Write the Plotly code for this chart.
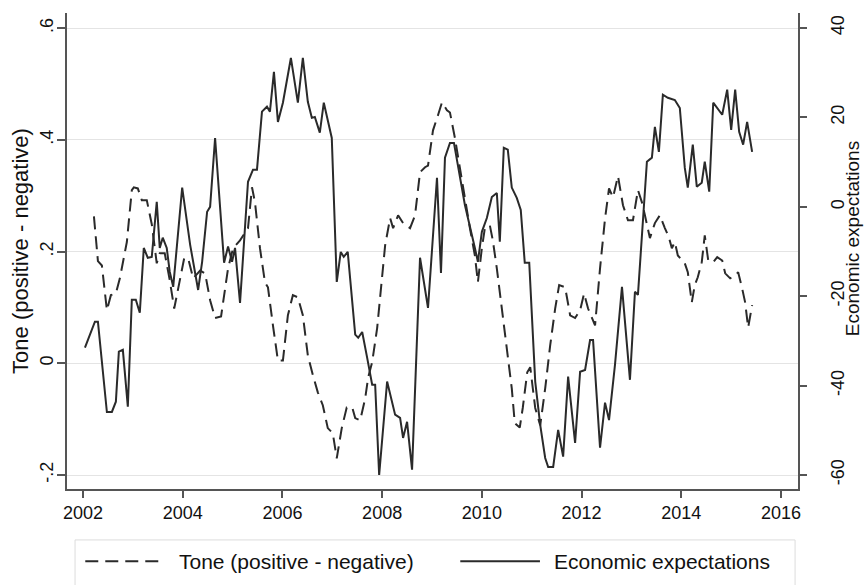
import plotly.graph_objects as go

# ---- Data ----
tone_year = [2002.22, 2002.30, 2002.38, 2002.48, 2002.56, 2002.66, 2002.74, 2002.88, 2002.98, 2003.02,
             2003.10, 2003.18, 2003.28, 2003.38, 2003.48, 2003.54, 2003.64, 2003.74, 2003.83, 2003.91,
             2004.03, 2004.11, 2004.21, 2004.35, 2004.45, 2004.55, 2004.65, 2004.77, 2004.91, 2005.01,
             2005.15, 2005.31, 2005.39, 2005.45, 2005.55, 2005.65, 2005.71, 2005.81, 2005.91, 2006.01,
             2006.11, 2006.21, 2006.31, 2006.41, 2006.51, 2006.61, 2006.71, 2006.81, 2006.91, 2007.01,
             2007.09, 2007.19, 2007.29, 2007.40, 2007.46, 2007.56, 2007.66, 2007.72, 2007.80, 2007.90,
             2008.00, 2008.06, 2008.16, 2008.22, 2008.32, 2008.42, 2008.56, 2008.66, 2008.76, 2008.86,
             2008.92, 2009.02, 2009.12, 2009.20, 2009.30, 2009.36, 2009.46, 2009.56, 2009.66, 2009.76,
             2009.86, 2009.92, 2010.00, 2010.06, 2010.16, 2010.22, 2010.30, 2010.40, 2010.50, 2010.60,
             2010.66, 2010.76, 2010.82, 2010.91, 2010.97, 2011.07, 2011.17, 2011.27, 2011.37, 2011.47,
             2011.55, 2011.67, 2011.77, 2011.87, 2011.97, 2012.05, 2012.13, 2012.27, 2012.37, 2012.47,
             2012.55, 2012.63, 2012.73, 2012.83, 2012.93, 2013.03, 2013.13, 2013.21, 2013.27, 2013.37,
             2013.47, 2013.57, 2013.67, 2013.75, 2013.81, 2013.87, 2013.93, 2014.07, 2014.13, 2014.21,
             2014.27, 2014.33, 2014.41, 2014.47, 2014.54, 2014.64, 2014.72, 2014.82, 2014.88, 2014.98,
             2015.08, 2015.14, 2015.22, 2015.28, 2015.34, 2015.42]
tone = [0.263, 0.183, 0.175, 0.095, 0.122, 0.125, 0.152, 0.217, 0.310, 0.315,
        0.313, 0.292, 0.292, 0.249, 0.179, 0.197, 0.197, 0.149, 0.098, 0.134,
        0.188, 0.188, 0.152, 0.166, 0.161, 0.113, 0.081, 0.084, 0.170, 0.206,
        0.220, 0.242, 0.315, 0.288, 0.206, 0.145, 0.136, 0.068, 0.005, 0.005,
        0.086, 0.122, 0.118, 0.086, 0.014, -0.021, -0.052, -0.075, -0.116, -0.125,
        -0.170, -0.116, -0.079, -0.079, -0.098, -0.102, -0.063, -0.025, 0.002, 0.063,
        0.157, 0.211, 0.260, 0.242, 0.265, 0.251, 0.242, 0.265, 0.342, 0.351,
        0.354, 0.417, 0.444, 0.467, 0.453, 0.449, 0.403, 0.349, 0.288, 0.242,
        0.193, 0.145, 0.206, 0.242, 0.247, 0.220, 0.170, 0.098, 0.023, -0.045,
        -0.107, -0.115, -0.080, -0.016, -0.007, -0.080, -0.111, -0.045, 0.032, 0.098,
        0.140, 0.136, 0.086, 0.081, 0.095, 0.125, 0.098, 0.068, 0.170, 0.259,
        0.313, 0.297, 0.335, 0.283, 0.256, 0.256, 0.310, 0.288, 0.265, 0.224,
        0.251, 0.265, 0.242, 0.226, 0.206, 0.217, 0.193, 0.179, 0.163, 0.109,
        0.140, 0.154, 0.181, 0.229, 0.184, 0.181, 0.190, 0.184, 0.161, 0.152,
        0.157, 0.163, 0.134, 0.109, 0.064, 0.104]

expect_year = [2002.04, 2002.24, 2002.30, 2002.48, 2002.58, 2002.66, 2002.72, 2002.80, 2002.90, 2002.98,
               2003.06, 2003.14, 2003.22, 2003.30, 2003.38, 2003.40, 2003.48, 2003.54, 2003.60, 2003.68,
               2003.74, 2003.81, 2003.99, 2004.15, 2004.25, 2004.31, 2004.39, 2004.49, 2004.55, 2004.65,
               2004.83, 2004.91, 2004.99, 2005.05, 2005.15, 2005.31, 2005.41, 2005.49, 2005.59, 2005.69,
               2005.75, 2005.83, 2005.91, 2006.01, 2006.17, 2006.31, 2006.41, 2006.51, 2006.59, 2006.65,
               2006.75, 2006.83, 2006.99, 2007.09, 2007.17, 2007.23, 2007.31, 2007.46, 2007.52, 2007.60,
               2007.70, 2007.80, 2007.86, 2007.94, 2008.10, 2008.26, 2008.36, 2008.42, 2008.50, 2008.60,
               2008.76, 2008.92, 2009.10, 2009.18, 2009.26, 2009.36, 2009.44, 2009.66, 2009.86, 2009.92,
               2010.00, 2010.10, 2010.20, 2010.30, 2010.36, 2010.44, 2010.52, 2010.60, 2010.70, 2010.78,
               2010.86, 2010.95, 2011.07, 2011.17, 2011.27, 2011.33, 2011.43, 2011.53, 2011.63, 2011.73,
               2011.87, 2011.97, 2012.07, 2012.17, 2012.23, 2012.37, 2012.47, 2012.55, 2012.67, 2012.81,
               2012.97, 2013.07, 2013.13, 2013.31, 2013.41, 2013.47, 2013.55, 2013.63, 2013.73, 2013.87,
               2013.97, 2014.07, 2014.13, 2014.23, 2014.31, 2014.41, 2014.47, 2014.56, 2014.64, 2014.78,
               2014.82, 2014.92, 2015.00, 2015.08, 2015.16, 2015.24, 2015.32, 2015.42]
expect = [-31.5, -25.7, -25.7, -45.9, -45.9, -43.6, -32.4, -32.0, -44.7, -20.8,
          -20.8, -23.7, -9.2, -11.4, -11.2, -8.5, 1.1, -9.2, -6.9, -9.2,
          -14.5, -17.9, 4.3, -8.5, -15.2, -18.6, -12.3, -1.1, 0.0, 15.4,
          -12.5, -8.9, -12.3, -9.2, -21.5, 5.6, 8.3, 8.3, 21.3, 22.4,
          21.3, 30.2, 19.0, 23.3, 33.3, 23.3, 33.3, 23.5, 19.9, 20.1,
          16.6, 23.3, 15.4, -16.8, -10.1, -11.2, -10.1, -28.6, -29.3, -28.0,
          -33.8, -39.8, -39.8, -60.0, -39.1, -46.5, -47.2, -51.7, -48.1, -58.8,
          -11.4, -22.6, 6.5, -14.8, 11.0, 14.3, 14.3, 0.4, -9.2, -12.3,
          -5.6, -2.5, 2.2, 3.1, -7.8, 13.2, 12.8, 4.3, 2.0, -0.7,
          -12.5, -12.5, -39.1, -48.8, -56.2, -58.2, -58.2, -49.9, -55.9, -38.0,
          -52.8, -36.9, -36.5, -29.8, -29.8, -53.9, -43.8, -47.7, -35.3, -17.9,
          -38.7, -19.0, -19.7, 10.1, 11.0, 17.9, 12.3, 25.1, 24.4, 23.9,
          22.1, 8.7, 4.3, 13.9, 4.5, 5.4, 10.1, 3.4, 23.3, 21.3,
          20.6, 26.2, 17.2, 26.2, 16.8, 13.9, 19.0, 12.3]

x_ticks = [2002, 2004, 2006, 2008, 2010, 2012, 2014, 2016]
left_ticks = [-0.2, 0, 0.2, 0.4, 0.6]
left_labels = ["-.2", "0", ".2", ".4", ".6"]
right_ticks = [-60, -40, -20, 0, 20, 40]
right_labels = ["-60", "-40", "-20", "0", "20", "40"]
series_names = ["Tone (positive - negative)", "Economic expectations"]

FONT = "Liberation Sans, Arial, sans-serif"
LINE = "#2a2a2a"
AXIS = "#555555"
DASH = "13px,7px"

fig = go.Figure()
fig.add_trace(go.Scatter(
    x=tone_year, y=tone, mode="lines", name=series_names[0],
    line=dict(color=LINE, width=2, dash=DASH), yaxis="y"))
fig.add_trace(go.Scatter(
    x=expect_year, y=expect, mode="lines", name=series_names[1],
    line=dict(color=LINE, width=2), yaxis="y2"))

# Stata-style legend box below the plot (drawn in paper coordinates)
LEG_Y = -0.152
shapes = [
    dict(type="rect", xref="paper", yref="paper", x0=0.011, x1=0.996, y0=-0.23, y1=-0.107,
         line=dict(color="#dcdcdc", width=1), fillcolor="rgba(0,0,0,0)", layer="below"),
    dict(type="line", xref="paper", yref="paper", x0=0.025, x1=0.127, y0=LEG_Y, y1=LEG_Y,
         line=dict(color=LINE, width=2, dash=DASH)),
    dict(type="line", xref="paper", yref="paper", x0=0.538, x1=0.647, y0=LEG_Y, y1=LEG_Y,
         line=dict(color=LINE, width=2)),
]
annotations = [
    dict(text=series_names[0], xref="paper", yref="paper", x=0.151, y=LEG_Y,
         xanchor="left", yanchor="middle", showarrow=False, font=dict(size=21)),
    dict(text=series_names[1], xref="paper", yref="paper", x=0.664, y=LEG_Y,
         xanchor="left", yanchor="middle", showarrow=False, font=dict(size=21)),
    dict(text="Economic expectations", xref="paper", yref="paper", x=1.074, y=0.525,
         xanchor="center", yanchor="middle", textangle=-90, showarrow=False,
         font=dict(size=19)),
]

fig.update_layout(
    width=867, height=585,
    margin=dict(l=67, r=69, t=13, b=96, autoexpand=False),
    paper_bgcolor="white", plot_bgcolor="white",
    font=dict(family=FONT, size=18, color="#111111"),
    showlegend=False,
    shapes=shapes, annotations=annotations,
    xaxis=dict(range=[2001.68, 2016.34], tickmode="array", tickvals=x_ticks,
               ticktext=[str(v) for v in x_ticks], automargin=False,
               showgrid=False, zeroline=False, showline=True, linecolor=AXIS, linewidth=1.5,
               ticks="outside", ticklen=7, tickcolor=AXIS, tickwidth=1.5, mirror=False),
    yaxis=dict(range=[-0.225, 0.627], tickmode="array", tickvals=left_ticks, ticktext=left_labels,
               tickangle=-90, showgrid=True, gridcolor="#e4e4e4", gridwidth=1.2, zeroline=False,
               showline=True, linecolor=AXIS, linewidth=1.5, automargin=False,
               ticks="outside", ticklen=8, tickcolor=AXIS, tickwidth=1.5, ticklabelstandoff=-3,
               title=dict(text="Tone (positive - negative)", standoff=2)),
    yaxis2=dict(range=[-63.13, 43.36], tickmode="array", tickvals=right_ticks, ticktext=right_labels,
                tickangle=-90, overlaying="y", side="right", showgrid=False, zeroline=False,
                showline=True, linecolor=AXIS, linewidth=1.5, automargin=False,
                ticks="outside", ticklen=7, tickcolor=AXIS, tickwidth=1.5, ticklabelstandoff=16),
)

fig.write_html("out.html", config={"displayModeBar": False},
               post_script="document.body.style.margin='0';")
